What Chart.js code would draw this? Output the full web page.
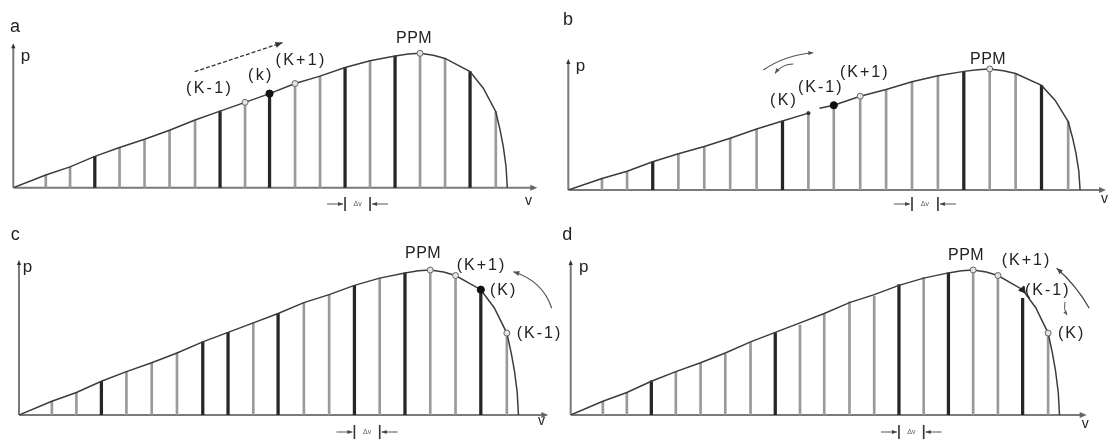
<!DOCTYPE html>
<html><head><meta charset="utf-8">
<script src="https://cdn.jsdelivr.net/npm/chart.js@4"></script>
<style>
html,body{margin:0;padding:0;background:#fff;width:1111px;height:440px;overflow:hidden}
canvas{position:absolute}
</style></head><body>
<canvas id="cc"></canvas>
<canvas id="cd"></canvas>
<canvas id="ca"></canvas>
<canvas id="cb"></canvas>
<script>
// ---- data (p normalised so that PPM = 100) ----
const vLines  = [1.3, 2.27, 3.26, 4.25, 5.25, 6.25, 7.27, 8.27, 9.27, 10.25, 11.27, 12.27, 13.27, 14.27, 15.27, 16.27, 17.27, 18.27, 19.3];
const pLines  = [9.5, 15.5, 23.3, 29.9, 36, 42.8, 50.4, 57, 63.5, 70, 77.5, 83, 89.4, 94.4, 98, 100, 96.2, 86.4, 56.5];
const pLinesD = [9.2, 15.2, 23.5, 30, 35.6, 42, 50, 56.6, 62, 70, 78, 82, 90, 95, 98, 100, 95.5, 80.5, 57];
const curveV = [0, 1.3, 2.27, 3.26, 4.25, 5.25, 6.25, 7.27, 8.27, 9.27, 10.25, 11.27, 12.27, 13.27, 14.27, 15.27, 15.8, 16.27, 16.8, 17.27, 18.27, 18.8, 19.3, 19.47, 19.6, 19.71, 19.76];
const curveP = [0, 9.5, 15.5, 23.3, 29.9, 36, 42.8, 50.4, 57, 63.5, 70, 77.5, 83, 89.4, 94.4, 98, 99.4, 100, 98.6, 96.2, 86.4, 74, 56.5, 43, 30.5, 15.6, 0];
const gapBV = 9.5;              // break in the curve of panel b
const resumeBV = [9.7], resumeBP = [67.5];

const darkA = [2, 7, 9, 12, 14, 17];
const darkB = [2, 7, 14, 17];
const darkC = [2, 6, 7, 9, 12, 14, 17];
const darkD = [2, 7, 12, 14, 17];

const openA = [8, 10, 15], filledA = [9], dotA = [];
const openB = [10, 15],    filledB = [9], dotB = [8];
const openC = [15, 16, 18], filledC = [17], dotC = [];
const openD = [15, 16, 18], filledD = [], dotD = [], triD = [17];

const panelLetters = ['a', 'b', 'c', 'd'];
const axisP = 'p', axisV = 'v', dvLabel = 'Δv', ppmLabel = 'PPM';
const kLabelsA = ['(K-1)', '(k)', '(K+1)'];
const kLabelsB = ['(K)', '(K-1)', '(K+1)'];
const kLabelsC = ['(K+1)', '(K)', '(K-1)'];
const kLabelsD = ['(K+1)', '(K-1)', '(K)'];

// ---- helpers ----
function curvePoints(withGap){
  const pts = [];
  let gapDone = !withGap;
  curveV.forEach((v, i) => {
    if (!gapDone && v > gapBV) {
      pts.push({x: gapBV, y: null});
      resumeBV.forEach((rv, j) => pts.push({x: rv, y: resumeBP[j]}));
      gapDone = true;
    }
    pts.push({x: v, y: curveP[i]});
  });
  return pts;
}
const pick = (idx, pl) => idx.map(i => ({x: vLines[i], y: pl[i]}));

function head(ctx, x, y, ang, s){
  ctx.save(); ctx.translate(x, y); ctx.rotate(ang);
  ctx.beginPath(); ctx.moveTo(0, 0); ctx.lineTo(-s, -s*0.42); ctx.lineTo(-s, s*0.42); ctx.closePath(); ctx.fill();
  ctx.restore();
}
function arrow(ctx, a, ox, oy){
  const f = [a.from[0]-ox, a.from[1]-oy], t = [a.to[0]-ox, a.to[1]-oy];
  const c = a.ctrl ? [a.ctrl[0]-ox, a.ctrl[1]-oy] : null;
  ctx.save();
  ctx.strokeStyle = a.color || '#444'; ctx.fillStyle = a.color || '#444';
  ctx.lineWidth = a.w || 1.3; ctx.setLineDash(a.dash || []);
  ctx.beginPath(); ctx.moveTo(f[0], f[1]);
  if (c) ctx.quadraticCurveTo(c[0], c[1], t[0], t[1]); else ctx.lineTo(t[0], t[1]);
  ctx.stroke(); ctx.setLineDash([]);
  const b = c || f;
  head(ctx, t[0], t[1], Math.atan2(t[1]-b[1], t[0]-b[0]), a.hs || 6);
  ctx.restore();
}

const pvPlugin = {
  id: 'pv',
  beforeDatasetsDraw(chart, _a, o){
    const ctx = chart.ctx, ca = chart.chartArea;
    ctx.save();
    ctx.strokeStyle = '#7a7a7a'; ctx.fillStyle = '#333'; ctx.lineWidth = 2;
    ctx.beginPath();
    ctx.moveTo(ca.left, ca.bottom); ctx.lineTo(ca.left, ca.top + 2);
    ctx.moveTo(ca.left, ca.bottom); ctx.lineTo(ca.right - 3, ca.bottom);
    ctx.stroke();
    head(ctx, ca.left, ca.top - 1, -Math.PI/2, 5);
    ctx.fillStyle = '#666';
    head(ctx, ca.right, ca.bottom, 0, 7);
    ctx.restore();
  },
  afterDatasetsDraw(chart, _a, o){
    const ctx = chart.ctx, ca = chart.chartArea, xs = chart.scales.x;
    ctx.save();
    // Δv marker between two adjacent lines
    const x0 = xs.getPixelForValue(vLines[o.dv[0]]), x1 = xs.getPixelForValue(vLines[o.dv[1]]);
    const y = ca.bottom + o.dvOff;
    ctx.strokeStyle = '#333'; ctx.fillStyle = '#333'; ctx.lineWidth = 1.6;
    ctx.beginPath();
    ctx.moveTo(x0, y - 7); ctx.lineTo(x0, y + 7);
    ctx.moveTo(x1, y - 7); ctx.lineTo(x1, y + 7);
    ctx.stroke();
    ctx.lineWidth = 1.2; ctx.strokeStyle = '#555';
    ctx.beginPath(); ctx.moveTo(x0 - 18, y); ctx.lineTo(x0 - 2, y); ctx.moveTo(x1 + 18, y); ctx.lineTo(x1 + 2, y); ctx.stroke();
    ctx.fillStyle = '#444';
    head(ctx, x0 - 2, y, 0, 5); head(ctx, x1 + 2, y, Math.PI, 5);
    ctx.font = '7px "Liberation Sans", Arial, sans-serif';
    ctx.textAlign = 'center'; ctx.textBaseline = 'middle'; ctx.fillStyle = '#555';
    ctx.fillText(dvLabel, (x0 + x1) / 2, y);
    ctx.restore();
    // arrows
    (o.arrows || []).forEach(a => arrow(ctx, a, o.left, o.top));
    // texts
    ctx.save();
    ctx.fillStyle = '#222'; ctx.textAlign = 'left'; ctx.textBaseline = 'alphabetic';
    o.texts.forEach(t => {
      ctx.font = t[3] + 'px "Liberation Sans", Arial, sans-serif';
      if ('letterSpacing' in ctx) ctx.letterSpacing = (t[4] || 0) + 'px';
      ctx.fillText(t[0], t[1] - o.left, t[2] - o.top);
    });
    if ('letterSpacing' in ctx) ctx.letterSpacing = '0px';
    ctx.restore();
  }
};

function makePanel(id, cfg){
  const cv = document.getElementById(id);
  cv.width = cfg.width; cv.height = cfg.height;
  cv.style.left = cfg.left + 'px'; cv.style.top = cfg.top + 'px';
  cv.style.width = cfg.width + 'px'; cv.style.height = cfg.height + 'px';
  const pl = cfg.pl;
  const all = vLines.map((v, i) => i);
  const light = all.filter(i => !cfg.dark.includes(i));
  const ds = [
    {type:'bar', data: pick(light, pl), backgroundColor:'#9a9a9a', barThickness: 2, grouped:false, order: 3},
    {type:'bar', data: pick(cfg.dark, pl), backgroundColor:'#262626', barThickness: 2.6, grouped:false, order: 2},
    {type:'line', data: curvePoints(cfg.gap), borderColor:'#3c3c3c', borderWidth:1.5,
     pointRadius:0, tension:0, spanGaps:false, order: 1},
    {type:'line', showLine:false, data: pick(cfg.open, pLines), pointRadius:3, pointStyle:'circle',
     pointBackgroundColor:'#e4e4e4', pointBorderColor:'#666', pointBorderWidth:1, order: 0},
    {type:'line', showLine:false, data: pick(cfg.filled, pLines), pointRadius:3.6, pointStyle:'circle',
     pointBackgroundColor:'#111', pointBorderColor:'#111', pointBorderWidth:1, order: 0},
    {type:'line', showLine:false, data: pick(cfg.dot, pLines), pointRadius:1.6, pointStyle:'circle',
     pointBackgroundColor:'#333', pointBorderColor:'#333', pointBorderWidth:1, order: 0},
    {type:'line', showLine:false, data: pick(cfg.tri || [], pLines), pointRadius:4, pointStyle:'triangle', rotation:140,
     pointBackgroundColor:'#222', pointBorderColor:'#222', pointBorderWidth:1, order: 0}
  ];
  new Chart(cv, {
    type: 'line',
    data: { datasets: ds },
    options: {
      responsive:false, animation:false, events:[], devicePixelRatio:1,
      layout:{ padding: cfg.pad },
      scales:{
        x:{ type:'linear', min:0, max:cfg.xMax, display:false, offset:false },
        y:{ type:'linear', min:0, max:cfg.yMax, display:false }
      },
      plugins:{ legend:{display:false}, tooltip:{enabled:false}, pv: cfg }
    },
    plugins:[pvPlugin]
  });
}

makePanel('ca', {
  left:0, top:0, width:555, height:220,
  pad:{left:13.3, top:44.3, right:17.7, bottom:32.3}, xMax:20.96, yMax:106.7,
  pl:pLines, dark:darkA, open:openA, filled:filledA, dot:dotA, gap:false,
  dv:[12, 13], dvOff:16.3,
  texts:[[panelLetters[0],10,31.7,18],[axisP,20.7,60.5,17],[axisV,525,205,14],[ppmLabel,396,43.3,16,0.5],
         [kLabelsA[0],186,93.3,16,2.3],[kLabelsA[1],248,80,16,2.3],[kLabelsA[2],275.5,65,16,2.3]],
  arrows:[{from:[194.6,71.7], to:[282.4,42.7], dash:[4,2], w:1.3, hs:7, color:'#333'}]
});
makePanel('cb', {
  left:555, top:0, width:556, height:220,
  pad:{left:13.3, top:60, right:2, bottom:30}, xMax:20.76, yMax:107.4,
  pl:pLines, dark:darkB, open:openB, filled:filledB, dot:dotB, gap:true,
  dv:[12, 13], dvOff:14,
  texts:[[panelLetters[1],563,25,18],[axisP,575.7,70.5,17],[axisV,1101,203,14],[ppmLabel,970,63.5,16,0.5],
         [kLabelsB[0],770,105,16,2.3],[kLabelsB[1],798,91.7,16,2],[kLabelsB[2],840,76.7,16,2]],
  arrows:[{from:[763.3,70], ctrl:[785,55], to:[813.3,52.7], w:1.1, hs:5, color:'#555'},
          {from:[793.3,64], ctrl:[782,64], to:[775,73.3], w:1.1, hs:5, color:'#555'}]
});
makePanel('cc', {
  left:0, top:220, width:575, height:220,
  pad:{left:19, top:41, right:26.7, bottom:25}, xMax:20.94, yMax:106.2,
  pl:pLines, dark:darkC, open:openC, filled:filledC, dot:dotC, gap:false,
  dv:[12, 13], dvOff:17,
  texts:[[panelLetters[2],10.7,240,18],[axisP,22.7,272,17],[axisV,538,425,14],[ppmLabel,405,258.3,16,0.5],
         [kLabelsC[0],456.7,270,16,2],[kLabelsC[1],490,295,16,2],[kLabelsC[2],516.7,338.3,16,2]],
  arrows:[{from:[551.7,308.3], ctrl:[543,281], to:[513.3,271.7], w:1.2, hs:6, color:'#555'}]
});
makePanel('cd', {
  left:555, top:220, width:556, height:220,
  pad:{left:15.7, top:41, right:24.3, bottom:25}, xMax:20.86, yMax:106.2,
  pl:pLinesD, dark:darkD, open:openD, filled:filledD, dot:dotD, tri:triD, gap:false,
  dv:[12, 13], dvOff:17,
  texts:[[panelLetters[3],562.3,240,18],[axisP,579,272,17],[axisV,1081.7,428,14],[ppmLabel,948,260,16,0.5],
         [kLabelsD[0],1001.7,265,16,2],[kLabelsD[1],1025,294.7,16,2],[kLabelsD[2],1058,338.3,16,2]],
  arrows:[{from:[1089.3,308.3], ctrl:[1076,285], to:[1056.7,268.3], w:1.2, hs:6, color:'#444'},
          {from:[1065,301.7], ctrl:[1063,309], to:[1067,315], w:1, hs:4, color:'#555'}]
});
</script>
</body></html>
